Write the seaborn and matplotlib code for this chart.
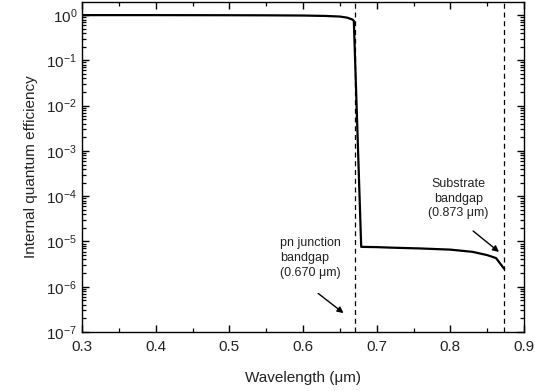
import numpy as np
import pandas as pd
import matplotlib
matplotlib.use("Agg")
import matplotlib.pyplot as plt
import seaborn as sns
from matplotlib.ticker import LogLocator, MultipleLocator, FixedLocator

wavelength = [0.30, 0.40, 0.50, 0.55, 0.60, 0.63, 0.65, 0.66, 0.667, 0.669, 0.679,
              0.70, 0.72, 0.76, 0.80, 0.83, 0.85, 0.862, 0.873]
iqe = [1.0, 1.0, 0.995, 0.99, 0.98, 0.96, 0.93, 0.88, 0.80, 0.75, 7.6e-6,
       7.5e-6, 7.3e-6, 7.0e-6, 6.6e-6, 5.9e-6, 5.0e-6, 4.3e-6, 2.5e-6]
bandgaps = [0.670, 0.873]
xticks = [0.3, 0.4, 0.5, 0.6, 0.7, 0.8, 0.9]

sns.set_theme(style="white")
plt.rcParams['font.family'] = ['Liberation Sans', 'DejaVu Sans']
plt.rcParams['mathtext.fontset'] = 'custom'
plt.rcParams['mathtext.rm'] = 'Liberation Sans'

fig = plt.figure(figsize=(5.35, 3.91), dpi=100)
ax = fig.add_axes([82/535, 1 - 332/391, (524-82)/535, (332-2)/391])

df = pd.DataFrame({"wavelength": wavelength, "iqe": iqe})
sns.lineplot(data=df, x="wavelength", y="iqe", ax=ax, color="black", lw=1.6,
             sort=False, estimator=None)
for bg in bandgaps:
    ax.axvline(bg, color="black", ls=(0, (4, 3)), lw=0.9)

ax.set_yscale("log")
ax.set_xlim(0.3, 0.9)
ax.set_ylim(1e-7, 10**0.29)
ax.xaxis.set_major_locator(FixedLocator(xticks))
ax.xaxis.set_minor_locator(MultipleLocator(0.05))
ax.yaxis.set_major_locator(LogLocator(base=10, numticks=20))
ax.yaxis.set_minor_locator(LogLocator(base=10, subs=np.arange(2, 10), numticks=20))
ax.set_xticklabels([f"{t:.1f}" for t in xticks])
ax.tick_params(which="both", direction="in", bottom=True, left=True, top=True, right=True,
               labelsize=11, color="black", labelcolor="#222222")
ax.tick_params(which="major", length=5, width=1)
ax.tick_params(which="minor", length=3, width=0.9)
ax.tick_params(axis="x", pad=6)
for s in ax.spines.values():
    s.set_color("black")
    s.set_linewidth(1.0)

ax.set_xlabel("Wavelength (μm)", fontsize=11, color="#222222", labelpad=12)
ax.set_ylabel("Internal quantum efficiency", fontsize=11, color="#222222", labelpad=6)

ax.text(0.569, 10**-4.91, "pn junction\nbandgap\n(0.670 μm)", fontsize=9,
        ha="left", va="top", color="#222222", linespacing=1.3)
ax.annotate("", xy=(0.658, 10**-6.62), xytext=(0.6176, 10**-6.11),
            arrowprops=dict(arrowstyle="-|>", color="black", lw=1.0, mutation_scale=9))
ax.text(0.811, 10**-3.6, "Substrate\nbandgap\n(0.873 μm)", fontsize=9,
        ha="center", va="top", multialignment="center", color="#222222", linespacing=1.3)
ax.annotate("", xy=(0.869, 10**-5.27), xytext=(0.828, 10**-4.73),
            arrowprops=dict(arrowstyle="-|>", color="black", lw=1.0, mutation_scale=9))

fig.savefig("out.png", dpi=100)
